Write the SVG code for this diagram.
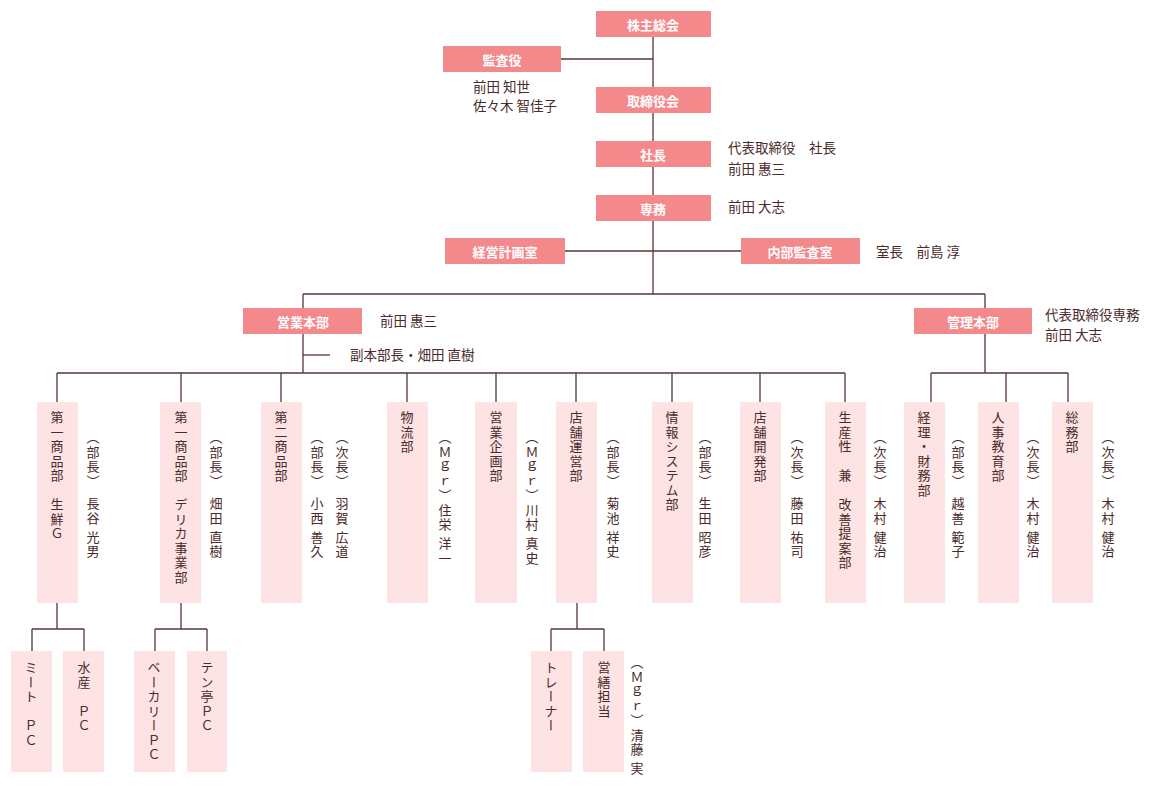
<svg xmlns="http://www.w3.org/2000/svg" width="1150" height="788" viewBox="0 0 1150 788">
<style>
.h{fill:#f4898b}
.d{fill:#fde3e3}
.ht{fill:#fff;font:bold 13px "Noto Sans CJK JP",sans-serif;text-anchor:middle;dominant-baseline:central}
.t{fill:#4a2a2a;font:13.5px "Noto Sans CJK JP",sans-serif}
.v{fill:#4a2a2a;font:13px "Noto Sans CJK JP",sans-serif;writing-mode:vertical-rl;text-orientation:upright;letter-spacing:1.5px}
.c line{stroke:#5a3434;stroke-width:1.3}
</style>
<rect width="1150" height="788" fill="#fff"/>
<g class="c">
<line x1="653" y1="37" x2="653" y2="294"/>
<line x1="561" y1="59" x2="653" y2="59"/>
<line x1="565" y1="251" x2="741" y2="251"/>
<line x1="303" y1="294" x2="985" y2="294"/>
<line x1="303" y1="294" x2="303" y2="308"/>
<line x1="985" y1="294" x2="985" y2="308"/>
<line x1="303" y1="334" x2="303" y2="373"/>
<line x1="303" y1="355" x2="330" y2="355"/>
<line x1="57" y1="373" x2="845" y2="373"/>
<line x1="57" y1="373" x2="57" y2="402"/>
<line x1="181" y1="373" x2="181" y2="402"/>
<line x1="281" y1="373" x2="281" y2="402"/>
<line x1="407" y1="373" x2="407" y2="402"/>
<line x1="496" y1="373" x2="496" y2="402"/>
<line x1="576" y1="373" x2="576" y2="402"/>
<line x1="672" y1="373" x2="672" y2="402"/>
<line x1="760" y1="373" x2="760" y2="402"/>
<line x1="845" y1="373" x2="845" y2="402"/>
<line x1="985" y1="334" x2="985" y2="373"/>
<line x1="931" y1="373" x2="1068" y2="373"/>
<line x1="931" y1="373" x2="931" y2="402"/>
<line x1="1006" y1="373" x2="1006" y2="402"/>
<line x1="1068" y1="373" x2="1068" y2="402"/>
<line x1="57" y1="603" x2="57" y2="629"/>
<line x1="32" y1="629" x2="84" y2="629"/>
<line x1="32" y1="629" x2="32" y2="651"/>
<line x1="84" y1="629" x2="84" y2="651"/>
<line x1="181" y1="603" x2="181" y2="629"/>
<line x1="155" y1="629" x2="207" y2="629"/>
<line x1="155" y1="629" x2="155" y2="651"/>
<line x1="207" y1="629" x2="207" y2="651"/>
<line x1="577" y1="603" x2="577" y2="629"/>
<line x1="551" y1="629" x2="604" y2="629"/>
<line x1="551" y1="629" x2="551" y2="651"/>
<line x1="604" y1="629" x2="604" y2="651"/>
</g>
<g id="n-kabunushi"><rect class="h" x="596" y="11" width="115" height="26"/><text class="ht" x="653" y="24">株主総会</text></g>
<g id="n-kansa"><rect class="h" x="443" y="46" width="118" height="26"/><text class="ht" x="502" y="59">監査役</text>
<text class="t" x="473" y="92">前田 知世</text><text class="t" x="473" y="111">佐々木 智佳子</text></g>
<g id="n-torishimari"><rect class="h" x="596" y="87" width="115" height="26"/><text class="ht" x="653" y="100">取締役会</text></g>
<g id="n-shacho"><rect class="h" x="596" y="141" width="115" height="26"/><text class="ht" x="653" y="154">社長</text>
<text class="t" x="728" y="153">代表取締役　社長</text><text class="t" x="728" y="174">前田 惠三</text></g>
<g id="n-senmu"><rect class="h" x="596" y="195" width="115" height="26"/><text class="ht" x="653" y="208">専務</text>
<text class="t" x="728" y="212">前田 大志</text></g>
<g id="n-keiei"><rect class="h" x="445" y="238" width="120" height="26"/><text class="ht" x="505" y="251">経営計画室</text></g>
<g id="n-naibu"><rect class="h" x="741" y="238" width="119" height="26"/><text class="ht" x="800" y="251">内部監査室</text>
<text class="t" x="876" y="257">室長　前島 淳</text></g>
<g id="n-eigyo"><rect class="h" x="243" y="308" width="119" height="26"/><text class="ht" x="303" y="321">営業本部</text>
<text class="t" x="380" y="326">前田 惠三</text><text class="t" x="350" y="360">副本部長・畑田 直樹</text></g>
<g id="n-kanri"><rect class="h" x="914" y="308" width="118" height="26"/><text class="ht" x="973" y="321">管理本部</text>
<text class="t" x="1045" y="320">代表取締役専務</text><text class="t" x="1045" y="340">前田 大志</text></g>
<g id="d1"><rect class="d" x="37" y="402" width="41" height="201"/><text class="v" x="57" y="411">第一商品部　生鮮Ｇ</text><text class="v" x="93" y="431">（部長）　長谷&#x2009;光男</text></g>
<g id="d2"><rect class="d" x="160" y="402" width="41" height="201"/><text class="v" x="181" y="411">第一商品部　デリカ事業部</text><text class="v" x="216" y="431">（部長）　畑田&#x2009;直樹</text></g>
<g id="d3"><rect class="d" x="261" y="402" width="41" height="201"/><text class="v" x="281" y="411">第二商品部</text><text class="v" x="317" y="431">（部長）　小西&#x2009;善久</text><text class="v" x="342" y="431">（次長）　羽賀&#x2009;広道</text></g>
<g id="d4"><rect class="d" x="387" y="402" width="41" height="201"/><text class="v" x="407" y="411">物流部</text><text class="v" x="445" y="431">（Ｍｇｒ）住栄&#x2009;洋一</text></g>
<g id="d5"><rect class="d" x="475" y="402" width="42" height="201"/><text class="v" x="496" y="411">営業企画部</text><text class="v" x="532" y="431">（Ｍｇｒ）川村&#x2009;真史</text></g>
<g id="d6"><rect class="d" x="556" y="402" width="41" height="201"/><text class="v" x="576" y="411">店舗運営部</text><text class="v" x="613" y="431">（部長）　菊池&#x2009;祥史</text></g>
<g id="d7"><rect class="d" x="652" y="402" width="41" height="201"/><text class="v" x="672" y="411">情報システム部</text><text class="v" x="705" y="431">（部長）　生田&#x2009;昭彦</text></g>
<g id="d8"><rect class="d" x="740" y="402" width="41" height="201"/><text class="v" x="760" y="411">店舗開発部</text><text class="v" x="797" y="431">（次長）　藤田&#x2009;祐司</text></g>
<g id="d9"><rect class="d" x="825" y="402" width="41" height="201"/><text class="v" x="845" y="411">生産性　兼　改善提案部</text><text class="v" x="880" y="431">（次長）　木村&#x2009;健治</text></g>
<g id="d10"><rect class="d" x="904" y="402" width="41" height="201"/><text class="v" x="924" y="411">経理・財務部</text><text class="v" x="958" y="431">（部長）　越善&#x2009;範子</text></g>
<g id="d11"><rect class="d" x="978" y="402" width="41" height="201"/><text class="v" x="998" y="411">人事教育部</text><text class="v" x="1033" y="431">（次長）　木村&#x2009;健治</text></g>
<g id="d12"><rect class="d" x="1052" y="402" width="41" height="201"/><text class="v" x="1072" y="411">総務部</text><text class="v" x="1108" y="431">（次長）　木村&#x2009;健治</text></g>
<g id="s1"><rect class="d" x="11" y="651" width="41" height="121"/><text class="v" x="31" y="661">ミート　ＰＣ</text></g>
<g id="s2"><rect class="d" x="63" y="651" width="41" height="121"/><text class="v" x="84" y="661">水産　ＰＣ</text></g>
<g id="s3"><rect class="d" x="134" y="651" width="41" height="121"/><text class="v" x="154" y="661">ベーカリーＰＣ</text></g>
<g id="s4"><rect class="d" x="187" y="651" width="40" height="121"/><text class="v" x="207" y="661">テン亭ＰＣ</text></g>
<g id="s5"><rect class="d" x="531" y="651" width="41" height="121"/><text class="v" x="551" y="661">トレーナー</text></g>
<g id="s6"><rect class="d" x="583" y="651" width="41" height="121"/><text class="v" x="604" y="661">営繕担当</text><text class="v" x="637" y="656">（Ｍｇｒ）清藤&#x2009;実</text></g>
</svg>
